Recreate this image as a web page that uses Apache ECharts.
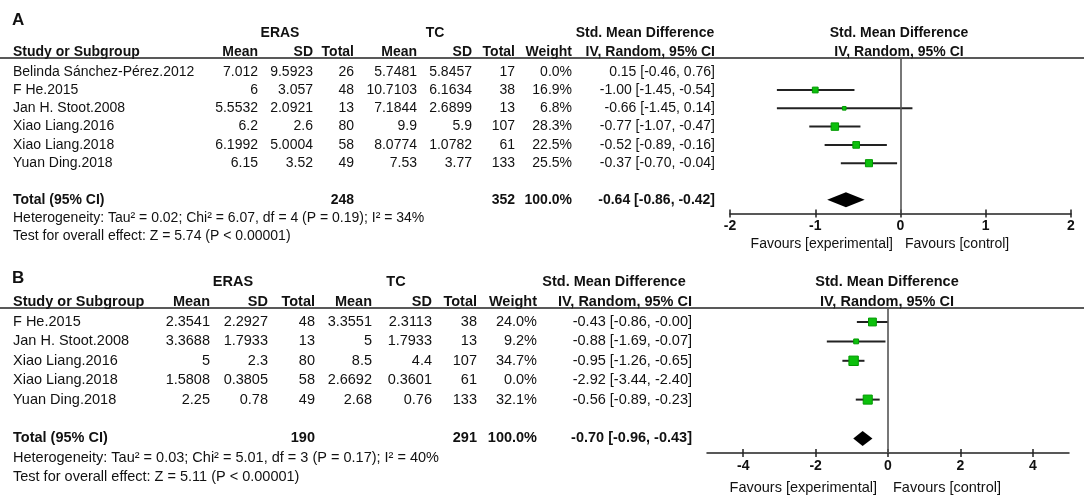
<!DOCTYPE html>
<html>
<head>
<meta charset="utf-8">
<script src="https://cdn.jsdelivr.net/npm/echarts@6/dist/echarts.min.js"></script>
<style>
  html, body { margin: 0; padding: 0; background: #fff; }
  #chart { width: 1084px; height: 499px; }
</style>
</head>
<body>
<div id="chart"></div>
<script>
// ---- panel A data ----
var studiesA = ['Belinda Sánchez-Pérez.2012', 'F He.2015', 'Jan H. Stoot.2008', 'Xiao Liang.2016', 'Xiao Liang.2018', 'Yuan Ding.2018'];
var erasMeanA = ['7.012', '6', '5.5532', '6.2', '6.1992', '6.15'];
var erasSdA = ['9.5923', '3.057', '2.0921', '2.6', '5.0004', '3.52'];
var erasNA = [26, 48, 13, 80, 58, 49];
var tcMeanA = ['5.7481', '10.7103', '7.1844', '9.9', '8.0774', '7.53'];
var tcSdA = ['5.8457', '6.1634', '2.6899', '5.9', '1.0782', '3.77'];
var tcNA = [17, 38, 13, 107, 61, 133];
var weightA = [0.0, 16.9, 6.8, 28.3, 22.5, 25.5];
var smdA = [0.15, -1.00, -0.66, -0.77, -0.52, -0.37];
var lowA = [-0.46, -1.45, -1.45, -1.07, -0.89, -0.70];
var highA = [0.76, -0.54, 0.14, -0.47, -0.16, -0.04];
var totalA = { erasN: 248, tcN: 352, smd: -0.64, low: -0.86, high: -0.42 };
var hetA = 'Heterogeneity: Tau² = 0.02; Chi² = 6.07, df = 4 (P = 0.19); I² = 34%';
var testA = 'Test for overall effect: Z = 5.74 (P < 0.00001)';
var ticksA = [-2, -1, 0, 1, 2];

// ---- panel B data ----
var studiesB = ['F He.2015', 'Jan H. Stoot.2008', 'Xiao Liang.2016', 'Xiao Liang.2018', 'Yuan Ding.2018'];
var erasMeanB = ['2.3541', '3.3688', '5', '1.5808', '2.25'];
var erasSdB = ['2.2927', '1.7933', '2.3', '0.3805', '0.78'];
var erasNB = [48, 13, 80, 58, 49];
var tcMeanB = ['3.3551', '5', '8.5', '2.6692', '2.68'];
var tcSdB = ['2.3113', '1.7933', '4.4', '0.3601', '0.76'];
var tcNB = [38, 13, 107, 61, 133];
var weightB = [24.0, 9.2, 34.7, 0.0, 32.1];
var smdB = [-0.43, -0.88, -0.95, -2.92, -0.56];
var lowB = [-0.86, -1.69, -1.26, -3.44, -0.89];
var highB = [-0.00, -0.07, -0.65, -2.40, -0.23];
var totalB = { erasN: 190, tcN: 291, smd: -0.70, low: -0.96, high: -0.43 };
var hetB = 'Heterogeneity: Tau² = 0.03; Chi² = 5.01, df = 3 (P = 0.17); I² = 40%';
var testB = 'Test for overall effect: Z = 5.11 (P < 0.00001)';
var ticksB = [-4, -2, 0, 2, 4];

var FONT = 'Arial, "Liberation Sans", sans-serif';
var TEXT = '#111';

function fmt(v) {
  if (v < 0 || Object.is(v, -0)) return '-' + Math.abs(v).toFixed(2);
  return v.toFixed(2);
}
function ciText(e, l, h) {
  return fmt(e) + ' [' + fmt(l) + ', ' + fmt(h) + ']';
}

// layout of each panel (pixels / row units)
var panels = [
  {
    letter: 'A', fontSize: 14,
    studies: studiesA, erasMean: erasMeanA, erasSd: erasSdA, erasN: erasNA,
    tcMean: tcMeanA, tcSd: tcSdA, tcN: tcNA, weight: weightA,
    smd: smdA, low: lowA, high: highA, total: totalA, het: hetA, test: testA, ticks: ticksA,
    row0: 71.7, rowH: 18.3, tblMin: -3, tblMax: 10,
    col: { study: 13, m1: 258, sd1: 313, n1: 354, m2: 417, sd2: 472, n2: 515, w: 572, ci: 715,
           erasC: 280, tcC: 435, smdC: 645, plotC: 899, expR: 893, ctlL: 905 },
    rowLetter: -2.83, rowGroup: -2.1, rowHead: -1.08, rowFav: 9.4,
    plot: { left: 730, width: 341, min: -2, max: 2 }, sizeK: 1.4
  },
  {
    letter: 'B', fontSize: 14.5,
    studies: studiesB, erasMean: erasMeanB, erasSd: erasSdB, erasN: erasNB,
    tcMean: tcMeanB, tcSd: tcSdB, tcN: tcNB, weight: weightB,
    smd: smdB, low: lowB, high: highB, total: totalB, het: hetB, test: testB, ticks: ticksB,
    row0: 322, rowH: 19.4, tblMin: -3, tblMax: 9,
    col: { study: 13, m1: 210, sd1: 268, n1: 315, m2: 372, sd2: 432, n2: 477, w: 537, ci: 692,
           erasC: 233, tcC: 396, smdC: 614, plotC: 887, expR: 877, ctlL: 893 },
    rowLetter: -2.27, rowGroup: -2.06, rowHead: -1.03, rowFav: 8.55,
    plot: { left: 707, width: 362, min: -5, max: 5 }, sizeK: 1.6
  }
];

function buildCells(p) {
  var c = [];
  var k = p.col;
  function add(x, row, text, align, bold, size) {
    c.push({ x: x, row: row, text: String(text), align: align || 'right', bold: !!bold, size: size || p.fontSize });
  }
  add(k.study - 1, p.rowLetter, p.letter, 'left', true, 17);
  add(k.erasC, p.rowGroup, 'ERAS', 'center', true);
  add(k.tcC, p.rowGroup, 'TC', 'center', true);
  add(k.smdC, p.rowGroup, 'Std. Mean Difference', 'center', true);
  add(k.plotC, p.rowGroup, 'Std. Mean Difference', 'center', true);
  add(k.study, p.rowHead, 'Study or Subgroup', 'left', true);
  add(k.m1, p.rowHead, 'Mean', 'right', true);
  add(k.sd1, p.rowHead, 'SD', 'right', true);
  add(k.n1, p.rowHead, 'Total', 'right', true);
  add(k.m2, p.rowHead, 'Mean', 'right', true);
  add(k.sd2, p.rowHead, 'SD', 'right', true);
  add(k.n2, p.rowHead, 'Total', 'right', true);
  add(k.w, p.rowHead, 'Weight', 'right', true);
  add(k.ci, p.rowHead, 'IV, Random, 95% CI', 'right', true);
  add(k.plotC, p.rowHead, 'IV, Random, 95% CI', 'center', true);
  p.studies.forEach(function (s, i) {
    add(k.study, i, s, 'left');
    add(k.m1, i, p.erasMean[i]);
    add(k.sd1, i, p.erasSd[i]);
    add(k.n1, i, p.erasN[i]);
    add(k.m2, i, p.tcMean[i]);
    add(k.sd2, i, p.tcSd[i]);
    add(k.n2, i, p.tcN[i]);
    add(k.w, i, p.weight[i].toFixed(1) + '%');
    add(k.ci, i, ciText(p.smd[i], p.low[i], p.high[i]));
  });
  var tr = p.studies.length + 1;
  add(k.study, tr, 'Total (95% CI)', 'left', true);
  add(k.n1, tr, p.total.erasN, 'right', true);
  add(k.n2, tr, p.total.tcN, 'right', true);
  add(k.w, tr, '100.0%', 'right', true);
  add(k.ci, tr, ciText(p.total.smd, p.total.low, p.total.high), 'right', true);
  add(k.study, tr + 1, p.het, 'left');
  add(k.study, tr + 2, p.test, 'left');
  add(k.expR, p.rowFav, 'Favours [experimental]', 'right');
  add(k.ctlL, p.rowFav, 'Favours [control]', 'left');
  return c;
}

var grids = [], xAxes = [], yAxes = [], series = [];
var tickStyle = { color: '#222', width: 1.5 };

panels.forEach(function (p) {
  var cells = buildCells(p);
  var nRows = p.studies.length;
  var totalRow = nRows + 1;
  var plotMin = -0.75, plotMax = totalRow + 0.75;

  // table grid (full width, x in pixels, y in rows)
  var tg = grids.length;
  grids.push({ left: 0, width: 1084, top: p.row0 + p.tblMin * p.rowH, height: (p.tblMax - p.tblMin) * p.rowH });
  var tx = xAxes.length, ty = yAxes.length;
  xAxes.push({ gridIndex: tg, type: 'value', min: 0, max: 1084, show: false });
  yAxes.push({ gridIndex: tg, type: 'value', min: p.tblMin, max: p.tblMax, inverse: true, show: false });

  // plot grid
  var pg = grids.length;
  var plotH = (plotMax - plotMin) * p.rowH;
  grids.push({ left: p.plot.left, width: p.plot.width, top: p.row0 + plotMin * p.rowH, height: plotH });
  var xa = xAxes.length;
  xAxes.push({
    gridIndex: pg, type: 'value', min: p.plot.min, max: p.plot.max, position: 'bottom',
    splitLine: { show: false },
    axisLine: { show: true, onZero: false, lineStyle: { color: '#222', width: 1.5 } },
    axisTick: { show: true, length: 4, lineStyle: tickStyle, customValues: p.ticks },
    axisLabel: { color: TEXT, fontFamily: FONT, fontSize: 14, fontWeight: 'bold', margin: 6, customValues: p.ticks }
  });
  // second axis on the same line: ticks pointing up into the plot
  xAxes.push({
    gridIndex: pg, type: 'value', min: p.plot.min, max: p.plot.max, position: 'top', offset: -plotH,
    splitLine: { show: false },
    axisLine: { show: false, onZero: false },
    axisTick: { show: true, length: 4, lineStyle: tickStyle, customValues: p.ticks },
    axisLabel: { show: false }
  });
  var ya = yAxes.length;
  yAxes.push({ gridIndex: pg, type: 'value', min: plotMin, max: plotMax, inverse: true, show: false });

  // table text
  series.push({
    type: 'custom', xAxisIndex: tx, yAxisIndex: ty, clip: false, silent: true,
    data: cells.map(function (c) { return [c.x, c.row]; }),
    renderItem: function (params, api) {
      var c = cells[params.dataIndex];
      var pt = api.coord([api.value(0), api.value(1)]);
      return {
        type: 'text', x: pt[0], y: pt[1],
        style: {
          text: c.text, fill: TEXT, align: c.align, verticalAlign: 'middle',
          font: (c.bold ? 'bold ' : '') + c.size + 'px ' + FONT
        }
      };
    },
    // header rule across the table
    markLine: {
      silent: true, symbol: 'none', label: { show: false },
      lineStyle: { color: '#222', width: 1.5, type: 'solid' },
      data: [{ yAxis: plotMin }]
    }
  });

  // forest rows with non-zero weight
  var shown = [];
  p.studies.forEach(function (s, i) { if (p.weight[i] > 0) shown.push(i); });

  series.push({
    type: 'custom', xAxisIndex: xa, yAxisIndex: ya, silent: true,
    data: shown.map(function (i) { return [p.low[i], p.high[i], i]; }),
    renderItem: function (params, api) {
      var a = api.coord([api.value(0), api.value(2)]);
      var b = api.coord([api.value(1), api.value(2)]);
      return { type: 'line', shape: { x1: a[0], y1: a[1], x2: b[0], y2: b[1] },
               style: { stroke: '#222', lineWidth: 2 } };
    }
  });
  series.push({
    type: 'scatter', xAxisIndex: xa, yAxisIndex: ya, silent: true, symbol: 'rect',
    data: shown.map(function (i) { return [p.smd[i], i, p.weight[i]]; }),
    symbolSize: function (v) { return p.sizeK * Math.sqrt(v[2]); },
    itemStyle: { color: '#0cc00c', borderColor: '#009a00', borderWidth: 1, opacity: 1 },
    markLine: {
      silent: true, symbol: 'none', label: { show: false },
      lineStyle: { color: '#555', width: 1.6, type: 'solid' },
      data: [{ xAxis: 0 }]
    }
  });
  // summary diamond
  series.push({
    type: 'custom', xAxisIndex: xa, yAxisIndex: ya, silent: true,
    data: [[p.total.low, p.total.smd, p.total.high, totalRow]],
    renderItem: function (params, api) {
      var row = api.value(3);
      var l = api.coord([api.value(0), row]);
      var e = api.coord([api.value(1), row]);
      var h = api.coord([api.value(2), row]);
      var hh = 7.5;
      return { type: 'polygon',
               shape: { points: [[l[0], l[1]], [e[0], e[1] - hh], [h[0], h[1]], [e[0], e[1] + hh]] },
               style: { fill: '#000' } };
    }
  });
});

var chart = echarts.init(document.getElementById('chart'));
chart.setOption({
  animation: false,
  backgroundColor: '#fff',
  grid: grids,
  xAxis: xAxes,
  yAxis: yAxes,
  series: series
});
</script>
</body>
</html>
